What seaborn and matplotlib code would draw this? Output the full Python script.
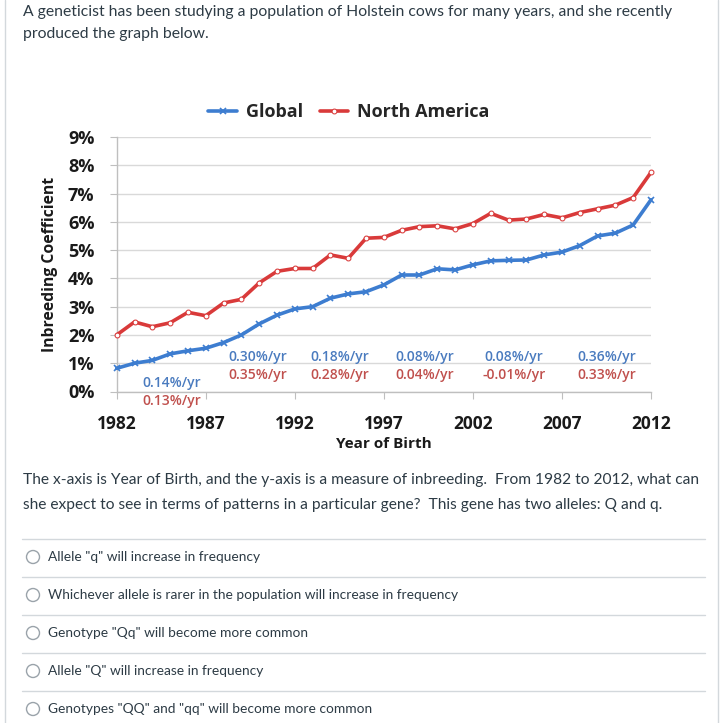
"""Quiz screenshot: inbreeding coefficient of Holstein cows, 1982-2012."""

import matplotlib
matplotlib.use("Agg")
import matplotlib.pyplot as plt
import pandas as pd
import seaborn as sns
from matplotlib.patches import Circle
from matplotlib.lines import Line2D

# ---- data ----
years = list(range(1982, 2013))
global_vals = [0.82, 1.00, 1.10, 1.33, 1.44, 1.53, 1.73, 2.00, 2.39, 2.70, 2.92,
               3.00, 3.30, 3.45, 3.53, 3.77, 4.12, 4.12, 4.34, 4.30, 4.48,
               4.62, 4.64, 4.65, 4.83, 4.93, 5.16, 5.50, 5.60, 5.89, 6.78]
na_vals = [2.00, 2.46, 2.29, 2.43, 2.80, 2.68, 3.13, 3.26, 3.84, 4.25, 4.35,
           4.35, 4.83, 4.71, 5.42, 5.45, 5.70, 5.83, 5.86, 5.75, 5.94,
           6.30, 6.06, 6.10, 6.26, 6.14, 6.33, 6.46, 6.59, 6.86, 7.75]

rate_years = [1985.1, 1989.9, 1994.5, 1999.3, 2004.3, 2009.5]
global_rates = ["0.14%/yr", "0.30%/yr", "0.18%/yr", "0.08%/yr", "0.08%/yr", "0.36%/yr"]
na_rates = ["0.13%/yr", "0.35%/yr", "0.28%/yr", "0.04%/yr", "-0.01%/yr", "0.33%/yr"]

x_ticks = [1982, 1987, 1992, 1997, 2002, 2007, 2012]
y_ticks = list(range(0, 10))

intro_lines = [
    "A geneticist has been studying a population of Holstein cows for many years, and she recently",
    "produced the graph below.",
]
question_lines = [
    "The x-axis is Year of Birth, and the y-axis is a measure of inbreeding.  From 1982 to 2012, what can",
    "she expect to see in terms of patterns in a particular gene?  This gene has two alleles: Q and q.",
]
options = [
    'Allele "q" will increase in frequency',
    "Whichever allele is rarer in the population will increase in frequency",
    'Genotype "Qq" will become more common',
    'Allele "Q" will increase in frequency',
    'Genotypes "QQ" and "qq" will become more common',
]

BLUE = "#3d7dd0"
RED = "#d93a3a"
BLUE_TXT = "#4a7bbf"
RED_TXT = "#c0504d"
PAGE_TXT = "#2d3b45"
RULE = "#d3d8dc"
CHART_FONT = ["Open Sans", "DejaVu Sans"]

W, H = 724, 723

sns.set_style("white")
plt.rcParams["font.family"] = ["Lato", "DejaVu Sans"]

fig = plt.figure(figsize=(W / 100, H / 100), dpi=100)


def fx(px):
    return px / W


def fy(py):
    return 1 - py / H


# ---- page furniture ----
for xpos in (5, 718):
    fig.add_artist(Line2D([fx(xpos)] * 2, [0, 1], color=RULE, lw=1))

for i, line in enumerate(intro_lines):
    fig.text(fx(23), fy(12 + 22 * i), line, fontsize=11.3, color=PAGE_TXT, va="center")

for i, line in enumerate(question_lines):
    fig.text(fx(23), fy(480 + 25 * i), line, fontsize=11.2, color=PAGE_TXT, va="center")

for i, opt in enumerate(options):
    ypos = 557 + 38 * i
    fig.add_artist(Line2D([fx(22), fx(705)], [fy(ypos - 18)] * 2, color=RULE, lw=1))
    fig.add_artist(Circle((fx(33), fy(ypos)), 6.5 / W, transform=fig.transFigure,
                          facecolor="white", edgecolor="#9aa3aa", lw=1))
    fig.text(fx(48), fy(ypos), opt, fontsize=9.9, color=PAGE_TXT, va="center")

# ---- chart ----
ax = fig.add_axes([fx(116.7), fy(391.5), (651 - 116.7) / W, (391.5 - 137) / H])

df = pd.DataFrame({"year": years, "Global": global_vals, "North America": na_vals})

sns.lineplot(data=df, x="year", y="Global", ax=ax, color=BLUE, lw=2.6,
             marker="x", markersize=4, markeredgewidth=1.2, markeredgecolor=BLUE,
             clip_on=False, zorder=3, label="Global")
sns.lineplot(data=df, x="year", y="North America", ax=ax, color=RED, lw=2.6,
             marker="o", markersize=3.5, markerfacecolor="white", markeredgecolor=RED,
             clip_on=False, zorder=3, label="North America")

ax.set_xlim(1982, 2012)
ax.set_ylim(0, 9)
ax.set_xticks(x_ticks)
ax.set_yticks(y_ticks)
ax.set_yticklabels([f"{v}%" for v in y_ticks])
ax.yaxis.grid(True, color="#d9d9d9", lw=1)
ax.xaxis.grid(False)
for side in ("top", "right"):
    ax.spines[side].set_visible(False)
for side in ("left", "bottom"):
    ax.spines[side].set_color("#bfbfbf")
    ax.spines[side].set_linewidth(1)
ax.tick_params(axis="y", which="both", left=True, length=5, color="#bfbfbf",
               pad=11, labelsize=13, labelcolor="#1a1a1a")
ax.tick_params(axis="x", which="both", bottom=True, length=5, color="#bfbfbf",
               pad=12, labelsize=12.5, labelcolor="#1a1a1a")
for lab in ax.get_xticklabels() + ax.get_yticklabels():
    lab.set_fontweight("bold")
    lab.set_family(CHART_FONT)

ax.set_xlabel("Year of Birth", fontsize=11, fontweight="bold", color="#1a1a1a",
              labelpad=3, family=CHART_FONT)
ax.set_ylabel("Inbreeding Coefficient", fontsize=11.3, fontweight="bold", color="#1a1a1a",
              labelpad=7, family=CHART_FONT)

# rate annotations
for i, (xr, g, n) in enumerate(zip(rate_years, global_rates, na_rates)):
    yg, yn = (0.30, -0.34) if i == 0 else (1.22, 0.58)
    ax.text(xr, yg, g, color=BLUE_TXT, fontsize=10, fontweight="semibold", ha="center",
            va="center", clip_on=False, family=CHART_FONT)
    ax.text(xr, yn, n, color=RED_TXT, fontsize=10, fontweight="semibold", ha="center",
            va="center", clip_on=False, family=CHART_FONT)

ax.legend(loc="center", bbox_to_anchor=(fx(349), fy(112)), bbox_transform=fig.transFigure,
          ncol=2, frameon=False, prop={"size": 13, "weight": "bold", "family": CHART_FONT},
          handlelength=1.6, columnspacing=0.9, handletextpad=0.5)

fig.savefig("out.png", dpi=100, facecolor="white")
